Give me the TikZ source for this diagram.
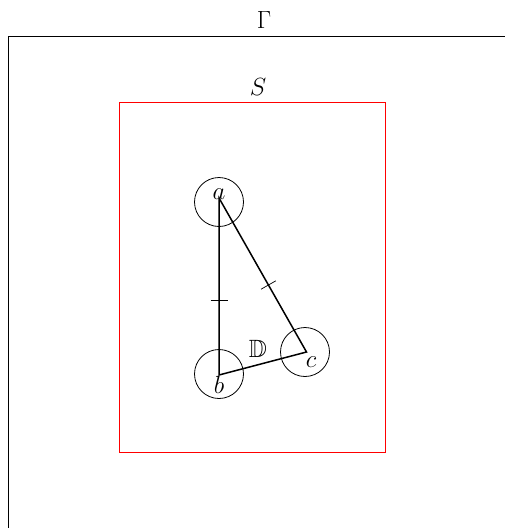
\documentclass[tikz,border=0pt]{standalone}
\usepackage{amssymb}
\usetikzlibrary{calc}
\begin{document}
\begin{tikzpicture}[x=1pt,y=-1pt,
  lbl/.style={inner sep=0pt,font=\fontsize{25}{29}\selectfont},
  vcirc/.style={draw,circle,minimum size=49pt,inner sep=0pt,line width=0.8pt},
  edge/.style={line width=1.5pt,line join=miter},
  tick/.style={line width=0.7pt}]
\useasboundingbox (0,0) rectangle (505,528);
% outer frame
\coordinate (g1) at (8,528);
\coordinate (g2) at (8,36);
\coordinate (g3) at (505,36);
\draw[line width=1pt] (g1) -- (g2) -- (g3);
\node[lbl] (gamma) at (264,20) {$\Gamma$};
% red region
\draw[red,line width=0.9pt] (119.5,102.5) rectangle (385.5,452);
\node[lbl] (S) at (258,87) {$S$};
% vertices
\coordinate (A) at (219,198);
\coordinate (B) at (219,375);
\coordinate (C) at (306.5,352);
\node[vcirc] (ca) at (219,202) {};
\node[vcirc] (cb) at (219,374) {};
\node[vcirc] (cc) at (305,352) {};
\draw[edge] (A) -- (B) -- (C) -- cycle;
\node[lbl] (la) at (219,194) {$a$};
\node[lbl] (lb) at (219,385) {$b$};
\node[lbl] (lc) at (311,362) {$c$};
\node[lbl] (D) at (258,349) {$\mathbb{D}$};
% ticks
\coordinate (tm) at ($(A)!0.565!(C)$);
\draw[tick] ($(tm)!8.5pt!90:(C)$) -- ($(tm)!8.5pt!-90:(C)$);
\draw[tick] (210.5,300) -- (227.5,300);
\end{tikzpicture}
\end{document}
